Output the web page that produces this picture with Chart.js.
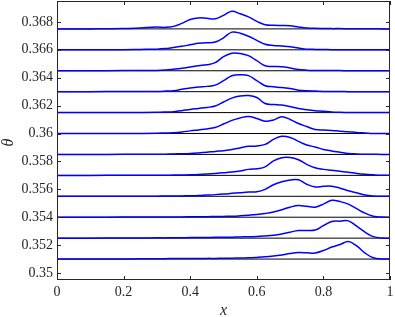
<!DOCTYPE html>
<html>
<head>
<meta charset="utf-8">
<script src="https://cdn.jsdelivr.net/npm/chart.js@4.4.1/dist/chart.umd.min.js"></script>
<style>
  html, body { margin: 0; padding: 0; background: #fff; }
</style>
</head>
<body>
<canvas id="waterfall" width="395" height="317"></canvas>
<script>
// sample positions along x
const xs = [0, 0.1, 0.2, 0.25, 0.3, 0.325, 0.35, 0.375, 0.4, 0.425, 0.45, 0.475, 0.5, 0.525, 0.55, 0.575,
            0.6, 0.625, 0.65, 0.675, 0.7, 0.725, 0.75, 0.775, 0.8, 0.825, 0.85, 0.875, 0.9, 0.925, 0.95, 0.975, 1];

// theta of each slice (bottom to top)
const thetas = [0.351, 0.3525, 0.354, 0.3555, 0.357, 0.3585, 0.36, 0.3615, 0.363, 0.3645, 0.366, 0.3675];

// profile height above each baseline, in units of 1e-4
const p0  = [0,0.1,0.1,0.2,0.3,0.3,0.4,0.4,0.4,0.4,0.5,0.5,0.6,0.6,0.8,0.9,1.2,1.6,2.2,3.0,4.0,4.7,4.5,4.3,6.1,8.6,10.4,12.6,9.4,4.3,0.9,0.1,0];
const p1  = [0,0,0.1,0.1,0.2,0.2,0.3,0.3,0.4,0.4,0.5,0.6,0.6,0.7,0.9,1.0,1.2,1.6,2.1,3.0,4.3,5.4,5.5,5.8,9.0,11.9,12.2,12.4,8.6,4.3,1.1,0.1,0];
const p2  = [0,0,0.1,0.1,0.1,0.1,0.2,0.2,0.3,0.4,0.4,0.5,0.6,0.7,1.0,1.4,1.9,2.7,3.8,5.4,7.2,8.4,7.8,7.2,9.4,12.1,11.2,9.4,6.1,2.9,0.7,0.1,0];
const p3  = [0,0,0.1,0.1,0.1,0.2,0.2,0.3,0.4,0.6,0.9,1.2,1.6,2.1,2.6,3.1,3.3,5.0,8.3,10.4,11.7,11.9,8.6,6.7,7.2,7.2,5.8,4.0,2.5,0.9,0.2,0,0];
const p4  = [0,0,0.1,0.1,0.1,0.1,0.2,0.3,0.4,0.6,0.9,1.3,1.8,2.4,3.2,4.3,4.8,6.1,10.4,12.7,12.8,11.2,7.9,5.4,4.3,3.6,2.9,2.2,1.4,0.8,0.4,0.1,0];
const p5  = [0,0,0.1,0.1,0.1,0.2,0.4,0.5,0.7,1.1,1.6,2.2,2.7,3.6,4.7,5.8,6.1,7.2,10.8,13.0,12.2,9.4,6.8,5.4,3.6,2.5,1.6,0.7,0.4,0.2,0.1,0,0];
const p6  = [0,0,0.1,0.1,0.2,0.4,0.6,1.1,1.9,2.6,3.3,4.3,6.8,9.4,11.2,12.2,10.8,8.8,9.7,12.0,10.1,7.2,5.0,2.9,2.5,2.2,1.7,1.3,0.7,0.4,0.1,0,0];
const p7  = [0,0,0.1,0.1,0.2,0.4,0.7,1.4,2.3,3.0,3.7,4.7,7.6,10.4,11.9,12.2,10.8,6.5,5.8,5.4,4.3,2.9,2.0,1.4,0.9,0.4,0.2,0.1,0,0,0,0,0];
const p8  = [0,0,0.1,0.1,0.2,0.4,0.7,1.7,2.6,3.3,3.8,4.7,7.9,11.4,12.1,11.5,7.9,4.3,3.5,3.0,2.2,1.1,0.6,0.4,0.2,0.1,0.1,0,0,0,0,0,0];
const p9  = [0,0,0.1,0.1,0.2,0.5,1.1,1.8,2.7,3.6,4.3,5.8,10.1,12.5,12.4,10.8,7.2,3.6,3.1,2.9,2.0,0.9,0.4,0.2,0.1,0.1,0.1,0,0,0,0,0,0];
const p10 = [0,0,0.1,0.3,0.5,0.9,1.7,2.5,3.6,4.7,5.0,5.6,8.6,12.7,11.9,9.7,6.8,4.0,3.1,2.7,2.2,1.3,0.5,0.3,0.2,0.1,0.1,0.1,0.1,0,0,0,0];
const p11 = [0,0,0.2,0.7,1.3,1.1,1.8,4.0,6.8,7.9,7.6,7.2,9.7,12.7,10.8,8.6,5.4,3.0,2.6,2.4,2.2,1.4,0.7,0.4,0.3,0.2,0.2,0.1,0.1,0.1,0.1,0,0];
const profiles = [p0, p1, p2, p3, p4, p5, p6, p7, p8, p9, p10, p11];

const xTicks = [0, 0.2, 0.4, 0.6, 0.8, 1];
const yTicks = [0.35, 0.352, 0.354, 0.356, 0.358, 0.36, 0.362, 0.364, 0.366, 0.368];
const xTitle = 'x';
const yTitle = 'θ';

const serif = "'Liberation Serif', serif";
const frameColor = '#262626';

// blue profiles on top, black baselines under them
let datasets = [];
for (let k = 0; k < thetas.length; k++) {
    datasets.push({
        data: xs.map((x, i) => ({ x: x, y: thetas[k] + profiles[k][i] * 1e-4 })),
        borderColor: '#0000ff',
        borderWidth: 1.5,
        pointRadius: 0,
        tension: 0.4,
        order: 0
    });
    datasets.push({
        data: [{ x: 0, y: thetas[k] }, { x: 1, y: thetas[k] }],
        borderColor: '#000000',
        borderWidth: 1,
        pointRadius: 0,
        order: 1
    });
}

// box with inward ticks like the matlab axes, plus the two axis titles
const boxTicks = {
    id: 'boxTicks',
    afterDraw(chart) {
        const ctx = chart.ctx;
        const a = chart.chartArea;
        const sx = chart.scales.x;
        const sy = chart.scales.y;
        ctx.save();
        ctx.strokeStyle = frameColor;
        ctx.lineWidth = 1;
        ctx.strokeRect(a.left + 0.5, a.top + 0.5, a.right - a.left - 1, a.bottom - a.top - 1);
        ctx.beginPath();
        for (let t of xTicks) {
            const px = Math.round(sx.getPixelForValue(t)) + 0.5;
            ctx.moveTo(px, a.bottom); ctx.lineTo(px, a.bottom - 4);
            ctx.moveTo(px, a.top); ctx.lineTo(px, a.top + 4);
        }
        for (let t of yTicks) {
            const py = Math.round(sy.getPixelForValue(t)) + 0.5;
            ctx.moveTo(a.left, py); ctx.lineTo(a.left + 4, py);
            ctx.moveTo(a.right, py); ctx.lineTo(a.right - 4, py);
        }
        ctx.stroke();

        ctx.fillStyle = frameColor;
        ctx.font = "italic 16px " + serif;
        ctx.textAlign = 'center';
        ctx.textBaseline = 'middle';
        ctx.fillText(xTitle, (a.left + a.right) / 2, 311);
        ctx.translate(9, (a.top + a.bottom) / 2 + 2);
        ctx.rotate(-Math.PI / 2);
        ctx.fillText(yTitle, 0, 0);
        ctx.restore();
    }
};

new Chart(document.getElementById('waterfall'), {
    type: 'line',
    data: { datasets: datasets },
    plugins: [boxTicks],
    options: {
        responsive: false,
        animation: false,
        layout: { padding: { top: 1, right: 5, left: 0, bottom: 0 } },
        plugins: { legend: { display: false }, tooltip: { enabled: false } },
        scales: {
            x: {
                type: 'linear',
                min: 0,
                max: 1,
                grid: { display: false, drawTicks: false, tickLength: 0 },
                border: { display: false },
                afterBuildTicks: s => { s.ticks = xTicks.map(v => ({ value: v })); },
                afterFit: s => { s.height = 37; s.paddingLeft = 0; s.paddingRight = 0; },
                ticks: {
                    padding: 4,
                    color: '#262626',
                    font: { family: serif, size: 14 },
                    callback: v => String(Number(v.toFixed(3)))
                }
            },
            y: {
                type: 'linear',
                min: 0.3495,
                max: 0.3695,
                grid: { display: false, drawTicks: false, tickLength: 0 },
                border: { display: false },
                afterBuildTicks: s => { s.ticks = yTicks.map(v => ({ value: v })); },
                afterFit: s => { s.width = 57; s.paddingTop = 0; s.paddingBottom = 0; },
                ticks: {
                    padding: 4,
                    color: '#262626',
                    font: { family: serif, size: 14 },
                    callback: v => String(Number(v.toFixed(3)))
                }
            }
        }
    }
});
</script>
</body>
</html>
